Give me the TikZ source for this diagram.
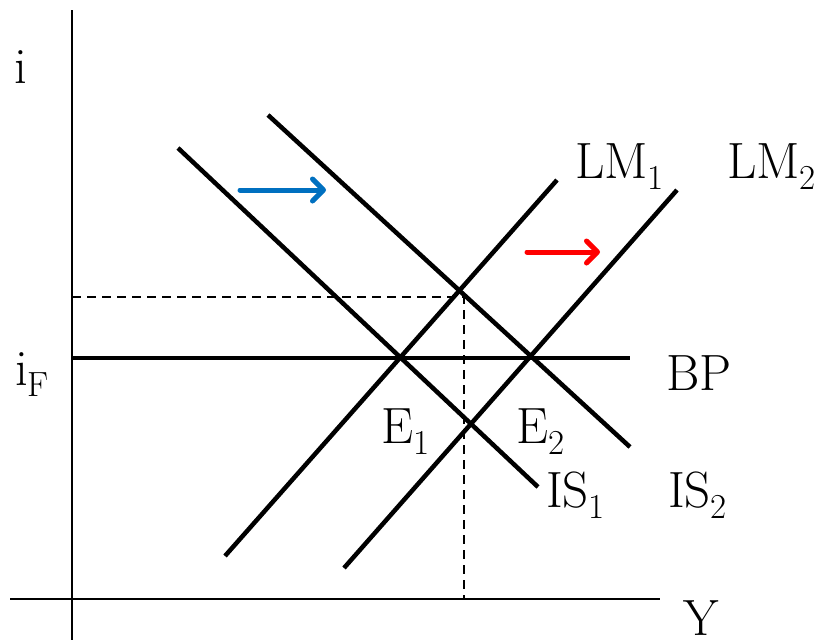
\documentclass[tikz,border=0pt]{standalone}
\usetikzlibrary{arrows.meta}
\definecolor{shiftblue}{RGB}{0,112,192}
\newcommand{\subtxt}[1]{\raisebox{-11pt}{\fontsize{35}{40}\selectfont #1}}
\begin{document}
\begin{tikzpicture}[x=1pt,y=-1pt,
  axis/.style={line width=2.4pt},
  curve/.style={line width=4.5pt},
  guide/.style={line width=2pt,dash pattern=on 9pt off 6pt},
  shiftarrow/.style={line width=5pt,line cap=round,-{Straight Barb[length=11pt,width=22pt,line cap=round,line join=round]}},
  lbl/.style={inner sep=0pt,font=\fontsize{51}{60}\selectfont}]
\useasboundingbox (0,0) rectangle (825,640);
% axes
\coordinate (ytop) at (72,10); \coordinate (ybot) at (72,640);
\coordinate (xl) at (10,599); \coordinate (xr) at (660,599);
\draw[axis] (ytop) -- (ybot);
\draw[axis] (xl) -- (xr);
% dashed guides
\coordinate (dA) at (72,297); \coordinate (dB) at (464,297); \coordinate (dC) at (464,599);
\draw[guide] (dA) -- (dB) -- (dC);
% BP
\coordinate (bp0) at (72,358); \coordinate (bp1) at (630,358);
\draw[line width=4pt] (bp0) -- (bp1);
% IS curves
\coordinate (is1a) at (178,148); \coordinate (is1b) at (538,487);
\coordinate (is2a) at (268,115); \coordinate (is2b) at (630,447);
\draw[curve] (is1a) -- (is1b);
\draw[curve] (is2a) -- (is2b);
% LM curves
\coordinate (lm1a) at (225,556); \coordinate (lm1b) at (557,180);
\coordinate (lm2a) at (344,568); \coordinate (lm2b) at (677,190);
\draw[curve] (lm1a) -- (lm1b);
\draw[curve] (lm2a) -- (lm2b);
% shift arrows
\coordinate (ba) at (240,190); \coordinate (bb) at (326,190);
\coordinate (ra) at (527,252); \coordinate (rb) at (600,252);
\draw[shiftarrow,shiftblue] (ba) -- (bb);
\draw[shiftarrow,red] (ra) -- (rb);
% labels
\node[lbl,anchor=base west] (li) at (14,83) {i};
\node[lbl,anchor=base west] (liF) at (15,385) {i\subtxt{F}};
\node[lbl,anchor=base west] (lY) at (683,635) {Y};
\node[lbl,anchor=base west] (lBP) at (666,390) {BP};
\node[lbl,anchor=base west] (lLM1) at (575,178) {LM\subtxt{1}};
\node[lbl,anchor=base west] (lLM2) at (727,178) {LM\subtxt{2}};
\node[lbl,anchor=base west] (lE1) at (381,443) {E\subtxt{1}};
\node[lbl,anchor=base west] (lE2) at (516,443) {E\subtxt{2}};
\node[lbl,anchor=base west] (lIS1) at (546,507) {IS\subtxt{1}};
\node[lbl,anchor=base west] (lIS2) at (668,507) {IS\subtxt{2}};
\end{tikzpicture}
\end{document}
